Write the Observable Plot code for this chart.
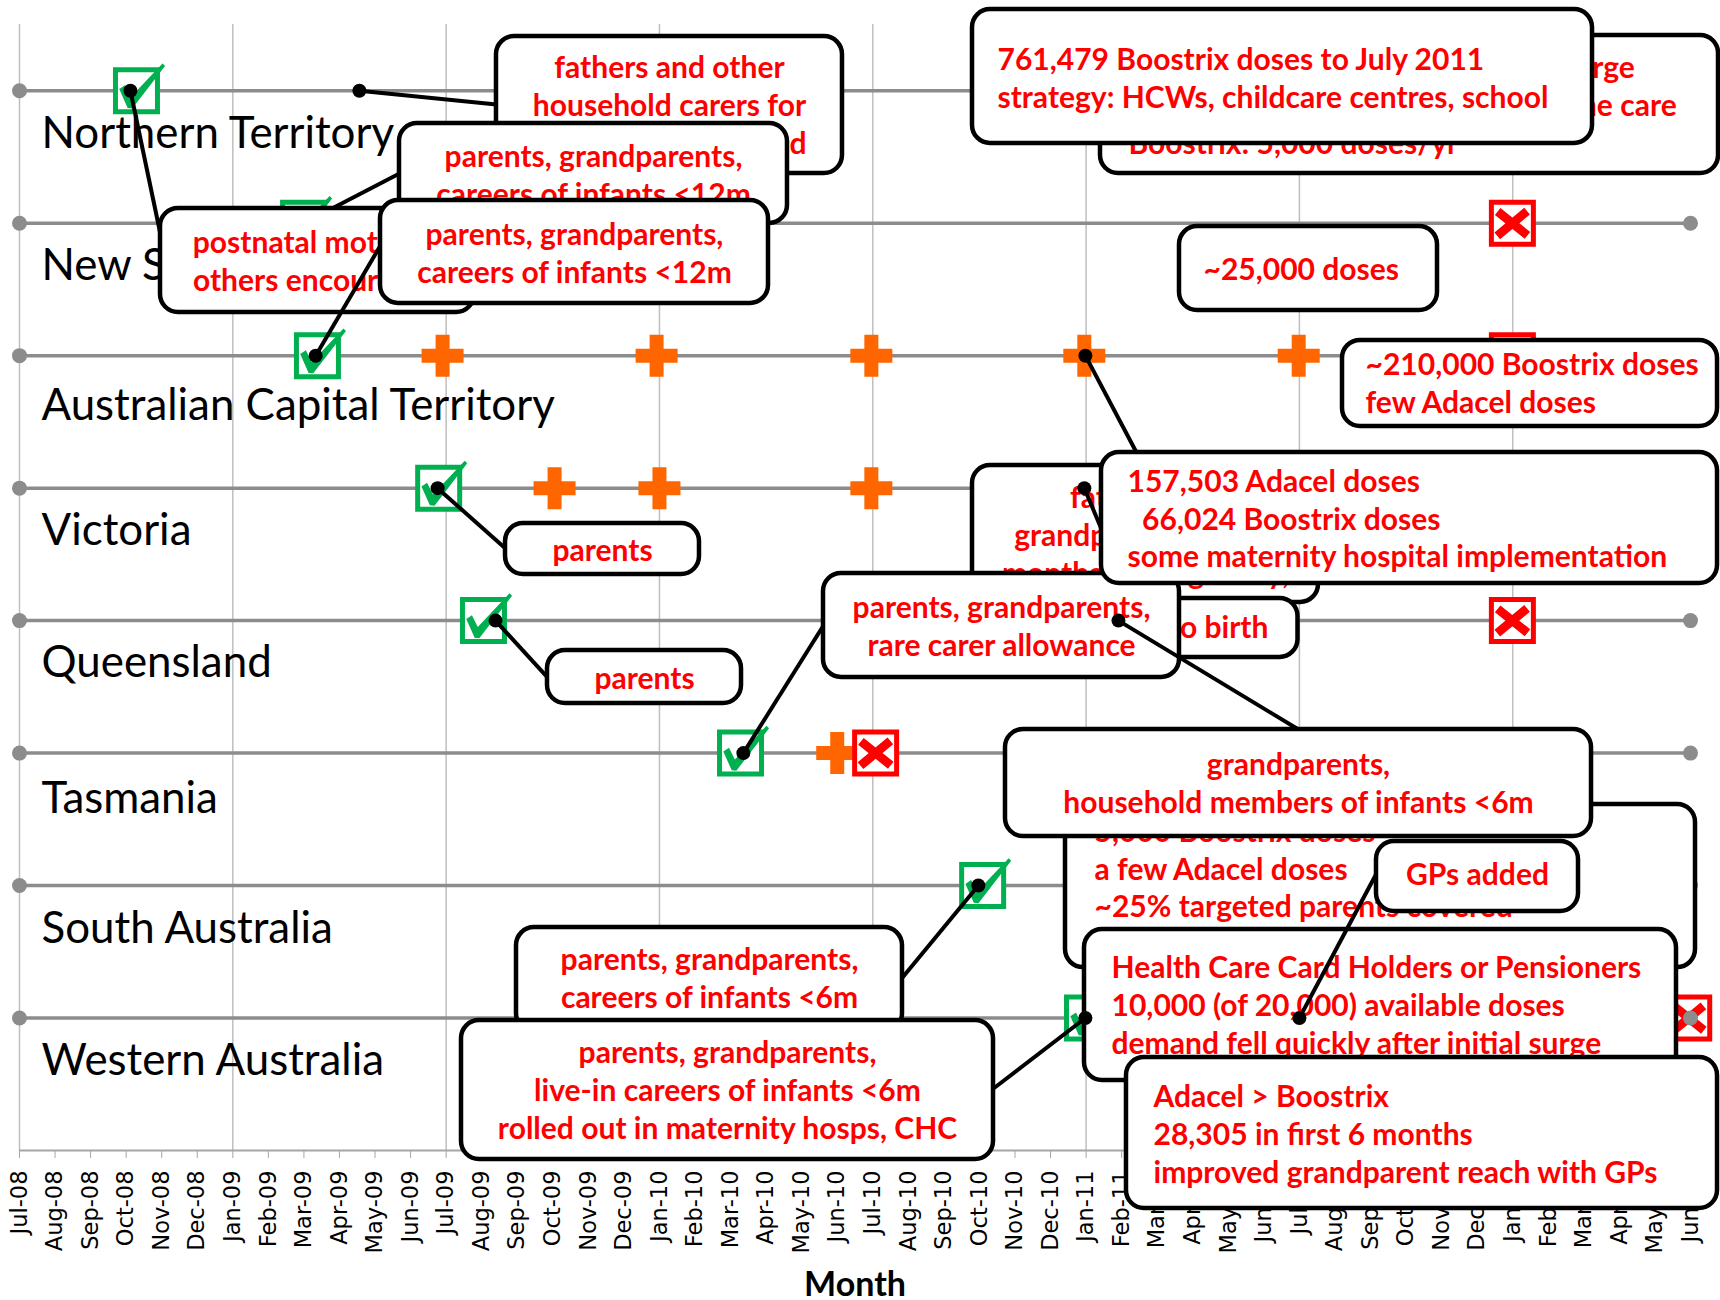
<!DOCTYPE html>
<html>
<head>
<meta charset="utf-8">
<script src="https://cdn.jsdelivr.net/npm/d3@7"></script>
<script src="https://cdn.jsdelivr.net/npm/@observablehq/plot@0.6"></script>
<style>
html,body{margin:0;padding:0;background:#fff;overflow:hidden;}
</style>
</head>
<body>
<div id="chart"></div>
<script>
// ---------------- DATA ----------------
const states = ["Northern Territory","New South Wales","Australian Capital Territory","Victoria",
                "Queensland","Tasmania","South Australia","Western Australia"];

const monthLabels = ["Jul-08","Aug-08","Sep-08","Oct-08","Nov-08","Dec-08",
  "Jan-09","Feb-09","Mar-09","Apr-09","May-09","Jun-09","Jul-09","Aug-09","Sep-09","Oct-09","Nov-09","Dec-09",
  "Jan-10","Feb-10","Mar-10","Apr-10","May-10","Jun-10","Jul-10","Aug-10","Sep-10","Oct-10","Nov-10","Dec-10",
  "Jan-11","Feb-11","Mar-11","Apr-11","May-11","Jun-11","Jul-11","Aug-11","Sep-11","Oct-11","Nov-11","Dec-11",
  "Jan-12","Feb-12","Mar-12","Apr-12","May-12","Jun-12"];

// month = months since Jul-08 (fractional)
const programStart = [
  {state:"Northern Territory", month:3.29},
  {state:"New South Wales", month:7.99},
  {state:"Australian Capital Territory", month:8.38},
  {state:"Victoria", month:11.79},
  {state:"Queensland", month:13.05},
  {state:"Tasmania", month:20.28},
  {state:"South Australia", month:27.09},
  {state:"Western Australia", month:30.04}
];
const supplyPoints = [
  {state:"Australian Capital Territory", month:11.90},
  {state:"Australian Capital Territory", month:17.92},
  {state:"Australian Capital Territory", month:23.96},
  {state:"Australian Capital Territory", month:29.95},
  {state:"Australian Capital Territory", month:35.98},
  {state:"Victoria", month:15.05},
  {state:"Victoria", month:18.00},
  {state:"Victoria", month:23.96},
  {state:"Tasmania", month:23.00}
];
const programEnd = [
  {state:"New South Wales", month:41.99},
  {state:"Australian Capital Territory", month:41.99},
  {state:"Queensland", month:41.99},
  {state:"Tasmania", month:24.08},
  {state:"Western Australia", month:46.95}
];
// annotated events (anchor of each callout line)
const noteAnchors = [
  {id:"c1", state:"Northern Territory", month:9.56},
  {id:"c2", state:"Northern Territory", month:3.12},
  {id:"c3", state:"New South Wales", month:7.99},
  {id:"c4", state:"Australian Capital Territory", month:8.33},
  {id:"c5", state:"Victoria", month:11.76},
  {id:"c6", state:"Queensland", month:13.39},
  {id:"c7", state:"Tasmania", month:20.36},
  {id:"c8", state:"Australian Capital Territory", month:29.98},
  {id:"c9", state:"Victoria", month:29.95},
  {id:"c10", state:"Queensland", month:30.91},
  {id:"c11", state:"South Australia", month:26.97},
  {id:"c12", state:"Western Australia", month:29.98},
  {id:"c13", state:"Western Australia", month:36.00}
];
const noteTexts = [
  {id:"A", lines:["fathers and other","household carers for","infants, state funded"]},
  {id:"B", lines:["parents, grandparents,","careers of infants <12m"]},
  {id:"C", lines:["postnatal mothers,","others encouraged"]},
  {id:"D", lines:["parents, grandparents,","careers of infants <12m"]},
  {id:"E", lines:["761,479 Boostrix doses to July 2011","strategy: HCWs, childcare centres, school"]},
  {id:"F", lines:["offered free to all parents at discharge","via GP clinics, community, and home care","Boostrix: 5,000 doses/yr"]},
  {id:"G", lines:["~25,000 doses"]},
  {id:"H", lines:["~210,000 Boostrix doses","few Adacel doses"]},
  {id:"I", lines:["fathers and","grandparents in last","months of pregnancy,"]},
  {id:"OB", lines:["28 weeks to birth"]},
  {id:"K", lines:["157,503 Adacel doses","\u00a0\u00a066,024 Boostrix doses","some maternity hospital implementation"]},
  {id:"J", lines:["parents, grandparents,","rare carer allowance"]},
  {id:"PV", lines:["parents"]},
  {id:"PQ", lines:["parents"]},
  {id:"L", lines:["grandparents,","household members of infants <6m"]},
  {id:"M", lines:["5,000 Boostrix doses","a few Adacel doses","~25% targeted parents covered"]},
  {id:"N", lines:["GPs added"]},
  {id:"O", lines:["Health Care Card Holders or Pensioners","10,000 (of 20,000) available doses","demand fell quickly after initial surge"]},
  {id:"Q", lines:["parents, grandparents,","careers of infants <6m"]},
  {id:"P", lines:["parents, grandparents,","live-in careers of infants <6m","rolled out in maternity hosps, CHC"]},
  {id:"R", lines:["Adacel > Boostrix","28,305 in first 6 months","improved grandparent reach with GPs"]}
];

// ---------------- LAYOUT (in data units: x = months, y = row units) ----------------
const labelShift = [0, 0, 7, 0, -1, 3, 0, 0]; // extra vertical offset of row labels, px
const boxLayout = [
  {id:"A", x1:13.416, x2:23.148, y1:8.409, y2:7.375, tx:18.282, ty:8.168, align:"middle"},
  {id:"B", x1:10.688, x2:21.601, y1:7.753, y2:6.998, tx:16.145, ty:7.496, align:"middle"},
  {id:"C", x1:3.966, x2:12.798, y1:7.111, y2:6.326, tx:8.382, ty:6.847, align:"middle"},
  {id:"D", x1:10.154, x2:21.067, y1:7.171, y2:6.394, tx:15.610, ty:6.907, align:"middle"},
  {id:"E", x1:26.805, x2:44.244, y1:8.613, y2:7.602, tx:27.508, ty:8.228, align:"start"},
  {id:"F", x1:30.405, x2:47.788, y1:8.417, y2:7.375, tx:31.193, ty:8.168, align:"start"},
  {id:"G", x1:32.627, x2:39.884, y1:6.975, y2:6.341, tx:33.302, ty:6.643, align:"start"},
  {id:"H", x1:37.212, x2:47.760, y1:6.115, y2:5.465, tx:37.859, ty:5.926, align:"start"},
  {id:"I", x1:26.805, x2:36.537, y1:5.171, y2:4.137, tx:31.671, ty:4.922, align:"middle"},
  {id:"OB", x1:27.874, x2:35.960, y1:4.167, y2:3.722, tx:35.130, ty:3.941, align:"end"},
  {id:"K", x1:30.433, x2:47.760, y1:5.269, y2:4.280, tx:31.165, ty:5.043, align:"start"},
  {id:"J", x1:22.614, x2:32.627, y1:4.356, y2:3.571, tx:27.621, ty:4.091, align:"middle"},
  {id:"PV", x1:13.670, x2:19.126, y1:4.733, y2:4.348, tx:16.398, ty:4.522, align:"middle"},
  {id:"PQ", x1:14.851, x2:20.308, y1:3.774, y2:3.374, tx:17.579, ty:3.556, align:"middle"},
  {id:"L", x1:27.733, x2:44.216, y1:3.178, y2:2.370, tx:35.974, ty:2.906, align:"middle"},
  {id:"M", x1:29.421, x2:47.141, y1:2.612, y2:1.381, tx:30.237, ty:2.401, align:"start"},
  {id:"N", x1:38.168, x2:43.850, y1:2.333, y2:1.804, tx:41.009, ty:2.076, align:"middle"},
  {id:"O", x1:29.955, x2:46.606, y1:1.668, y2:0.528, tx:30.715, ty:1.374, align:"start"},
  {id:"Q", x1:13.979, x2:24.836, y1:1.683, y2:0.898, tx:19.408, ty:1.434, align:"middle"},
  {id:"P", x1:12.432, x2:27.396, y1:0.981, y2:-0.068, tx:19.914, ty:0.732, align:"middle"},
  {id:"R", x1:31.136, x2:47.760, y1:0.702, y2:-0.438, tx:31.896, ty:0.400, align:"start"}
];
// where each callout line meets its box
const linkEnds = [
  {id:"c1", x:13.416, y:7.896}, {id:"c2", x:3.966, y:6.915}, {id:"c3", x:10.688, y:7.375},
  {id:"c4", x:10.154, y:6.832}, {id:"c5", x:13.670, y:4.544}, {id:"c6", x:14.851, y:3.571},
  {id:"c7", x:22.614, y:3.963}, {id:"c8", x:31.418, y:5.269}, {id:"c9", x:31.249, y:4.167},
  {id:"c10", x:35.974, y:3.178}, {id:"c11", x:24.836, y:1.306}, {id:"c12", x:27.396, y:0.468},
  {id:"c13", x:38.168, y:2.091}
];
const drawOrder = ["c1","A","c2","c3","C","B","c4","D","F","E","G","H","c8","I","OB","c9","c7","J","K","c10",
  "PV","c5","PQ","c6","Q","P","c11","M","L","O","c12","c13","N","R"];
const LINE = 0.2846; // line spacing in row units

// ---------------- FONT SIZES (fit to measured widths) ----------------
const cv = document.createElement("canvas").getContext("2d");
function fit(str, weight, family, target) {
  cv.font = `${weight} 100px ${family}`;
  return 100 * target / cv.measureText(str).width;
}
const NOTE_SIZE = fit("parents, grandparents,", "bold", "Lato", 298);
const LABEL_SIZE = fit("Northern Territory", "normal", "Lato", 354);
const TICK_SIZE = fit("May-09", "normal", "'DejaVu Sans'", 83);
const MONTH_SIZE = fit("Month", "bold", "Lato", 102);

// ---------------- SYMBOLS ----------------
const rOf = size => Math.sqrt(size / Math.PI);
const squareSym = {draw(c, size){ const r = rOf(size);
  c.moveTo(-r,-r); c.lineTo(r,-r); c.lineTo(r,r); c.lineTo(-r,r); c.closePath(); }};
const checkSym = {draw(c, size){ const r = rOf(size);
  const p = [[-0.82,-0.08],[-0.55,-0.26],[-0.27,0.30],[1.24,-1.30],[1.36,-1.18],[-0.20,0.84],[-0.42,0.82]];
  c.moveTo(p[0][0]*r, p[0][1]*r);
  for (let i = 1; i < p.length; ++i) c.lineTo(p[i][0]*r, p[i][1]*r);
  c.closePath(); }};
function bar(c, ax, ay, bx, by, t) {
  const dx = bx-ax, dy = by-ay, L = Math.hypot(dx, dy), nx = -dy/L*t, ny = dx/L*t;
  c.moveTo(ax+nx, ay+ny); c.lineTo(bx+nx, by+ny); c.lineTo(bx-nx, by-ny); c.lineTo(ax-nx, ay-ny); c.closePath();
}
const xSym = {draw(c, size){ const r = rOf(size);
  bar(c, -0.70*r, -0.56*r, 0.72*r, 0.58*r, 0.21*r);
  bar(c, -0.72*r, 0.60*r, 0.70*r, -0.58*r, 0.21*r); }};
const plusSym = {draw(c, size){ const r = rOf(size), w = r/3;
  c.moveTo(-w,-r); c.lineTo(w,-r); c.lineTo(w,-w); c.lineTo(r,-w); c.lineTo(r,w); c.lineTo(w,w);
  c.lineTo(w,r); c.lineTo(-w,r); c.lineTo(-w,w); c.lineTo(-r,w); c.lineTo(-r,-w); c.lineTo(-w,-w); c.closePath(); }};

const ROW = s => 8 - states.indexOf(s);

// ---------------- MARKS ----------------
const marks = [];
marks.push(Plot.ruleX(d3.range(0, 48, 6), {y1: 0, y2: 8.5, stroke: "#bfbfbf", strokeWidth: 1.5}));
marks.push(Plot.ruleY(states, {y: ROW, x1: 0, x2: 47, stroke: "#8c8c8c", strokeWidth: 3.5}));
marks.push(Plot.ruleY([0], {x1: 0, x2: 47, stroke: "#a6a6a6", strokeWidth: 2}));
marks.push(Plot.axisX({ticks: d3.range(48), tickFormat: i => monthLabels[i], tickRotate: -90, tickSize: 8,
  tickPadding: 12, fontSize: TICK_SIZE, fontFamily: "DejaVu Sans", stroke: "#a6a6a6", fill: "#000", label: null}));
marks.push(Plot.text(["Month"], {frameAnchor: "bottom", dy: 145, lineAnchor: "bottom", fontWeight: "bold",
  fontSize: MONTH_SIZE, fontFamily: "Lato", fill: "#000"}));
states.forEach((s, i) => {
  marks.push(Plot.text([s], {x: 0, y: ROW, dx: 22, dy: 57 + labelShift[i], textAnchor: "start", lineAnchor: "bottom",
    fontSize: LABEL_SIZE, fontFamily: "Lato", fill: "#000"}));
});

// markers
marks.push(Plot.dot(programStart, {x: "month", y: d => ROW(d.state), r: 21, symbol: squareSym, fill: "#fff", stroke: "#00b050", strokeWidth: 5}));
marks.push(Plot.dot(programStart, {x: "month", y: d => ROW(d.state), r: 21, symbol: checkSym, fill: "#00b050", stroke: "none"}));
marks.push(Plot.dot(supplyPoints, {x: "month", y: d => ROW(d.state), r: 21, symbol: plusSym, fill: "#ff6600", stroke: "none"}));
marks.push(Plot.dot(programEnd, {x: "month", y: d => ROW(d.state), r: 21, symbol: squareSym, fill: "#fff", stroke: "#ff0000", strokeWidth: 5}));
marks.push(Plot.dot(programEnd, {x: "month", y: d => ROW(d.state), r: 21, symbol: xSym, fill: "#ff0000", stroke: "none"}));
// row end points
const rowEnds = states.flatMap(s => [{state: s, month: 0}, {state: s, month: 47}]);
marks.push(Plot.dot(rowEnds, {x: "month", y: d => ROW(d.state), r: 7.5, fill: "#8c8c8c", stroke: "none"}));

// callouts
for (const id of drawOrder) {
  const lay = boxLayout.find(b => b.id === id);
  if (lay) {
    const txt = noteTexts.find(t => t.id === id);
    marks.push(Plot.rect([lay], {x1: "x1", x2: "x2", y1: "y1", y2: "y2", rx: 18, ry: 18,
      fill: "#fff", stroke: "#000", strokeWidth: 4.5}));
    const rows = txt.lines.map((t, i) => ({t, x: lay.tx, y: lay.ty - i * LINE}));
    marks.push(Plot.text(rows, {x: "x", y: "y", text: "t", textAnchor: lay.align, lineAnchor: "middle",
      fill: "#ff0000", fontWeight: "bold", fontSize: NOTE_SIZE, fontFamily: "Lato"}));
  } else {
    const a = noteAnchors.find(n => n.id === id);
    const e = linkEnds.find(n => n.id === id);
    const seg = [{x1: a.month, y1: ROW(a.state), x2: e.x, y2: e.y}];
    marks.push(Plot.link(seg, {x1: "x1", y1: "y1", x2: "x2", y2: "y2", stroke: "#000", strokeWidth: 4}));
    marks.push(Plot.dot([a], {x: "month", y: d => ROW(d.state), r: 7, fill: "#000", stroke: "none"}));
  }
}

const chart = Plot.plot({
  width: 1720, height: 1300,
  marginLeft: 19, marginRight: 30, marginTop: 24, marginBottom: 150,
  x: {domain: [0, 47]},
  y: {domain: [0, 8.5], axis: null},
  style: {fontFamily: "Lato", background: "#fff", overflow: "visible"},
  marks
});
document.getElementById("chart").appendChild(chart);
</script>
</body>
</html>
